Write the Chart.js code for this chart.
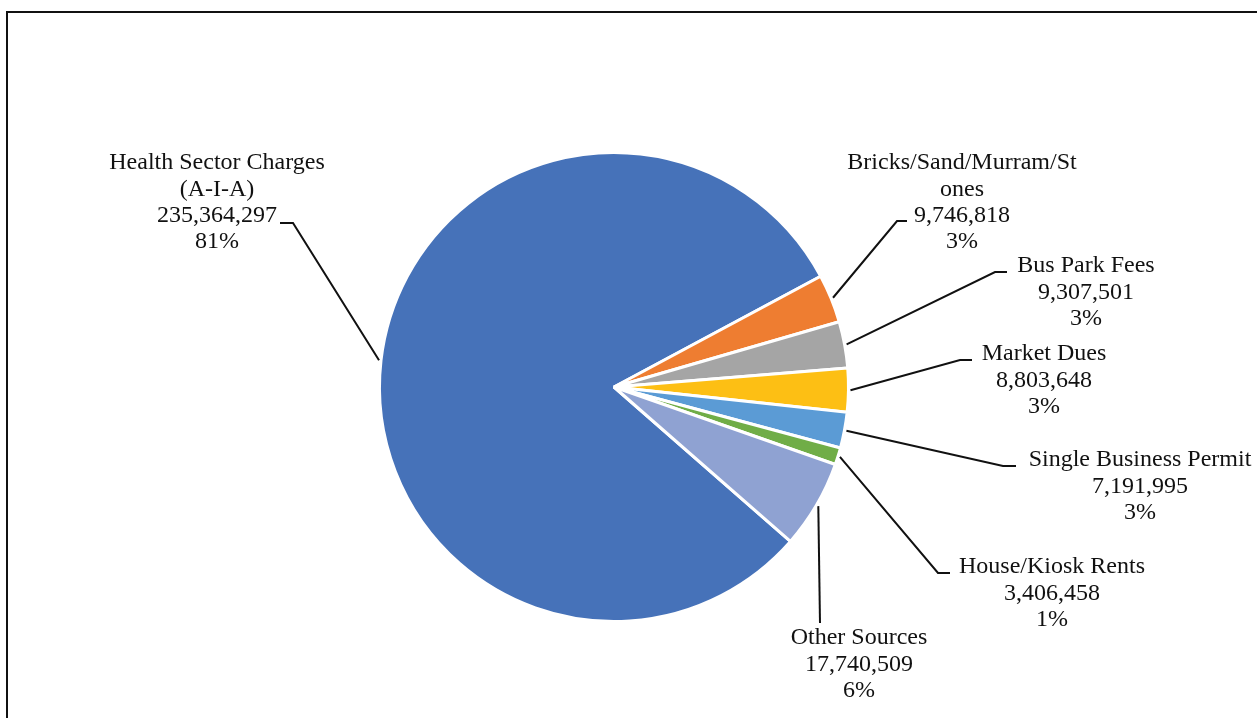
<!DOCTYPE html>
<html>
<head>
<meta charset="utf-8">
<script src="https://cdn.jsdelivr.net/npm/chart.js@4"></script>
<style>
  html, body { margin: 0; padding: 0; background: #fff; overflow: hidden; }
  #frame { position: absolute; left: 6px; top: 11px; width: 1270px; height: 730px; border: 2px solid #111; }
  #wrap { position: absolute; left: 0; top: 0; width: 1257px; height: 718px; }
</style>
</head>
<body>
<div id="frame"></div>
<div id="wrap"><canvas id="pieNguon"></canvas></div>
<script>
// nguồn thu và số tiền
var categories = [
  'Health Sector Charges (A-I-A)',
  'Bricks/Sand/Murram/Stones',
  'Bus Park Fees',
  'Market Dues',
  'Single Business Permit',
  'House/Kiosk Rents',
  'Other Sources'
];
var amounts = [235364297, 9746818, 9307501, 8803648, 7191995, 3406458, 17740509];
var pctLabels = ['81%', '3%', '3%', '3%', '3%', '1%', '6%'];
// dòng chữ của nhãn (tên bị ngắt dòng như trong bảng)
var nameLines = [
  ['Health Sector Charges', '(A-I-A)'],
  ['Bricks/Sand/Murram/St', 'ones'],
  ['Bus Park Fees'],
  ['Market Dues'],
  ['Single Business Permit'],
  ['House/Kiosk Rents'],
  ['Other Sources']
];

var sliceColors = ['#4672b9', '#ee7d31', '#a5a5a5', '#fdbf14', '#5b9bd5', '#70ad47', '#8fa2d2'];

// vị trí nhãn: tâm x, y dòng đầu, điểm gãy và điểm cuối của đường dẫn
var labelBox = [
  { x: 217, y: 163, elbow: [293, 223], end: 280 },
  { x: 962, y: 163, elbow: [897, 221], end: 907 },
  { x: 1086, y: 266, elbow: [995, 272], end: 1007 },
  { x: 1044, y: 354, elbow: [960, 360], end: 972 },
  { x: 1140, y: 460, elbow: [1003, 466], end: 1016 },
  { x: 1052, y: 567, elbow: [938, 573], end: 950 },
  { x: 859, y: 638, elbow: [820, 623], end: 820 }
];

var nhanPlugin = {
  id: 'nhanPlugin',
  afterDraw: function (chart) {
    var ctx = chart.ctx;
    var arcs = chart.getDatasetMeta(0).data;
    ctx.save();
    ctx.strokeStyle = '#111';
    ctx.lineWidth = 2;
    arcs.forEach(function (arc, i) {
      var p = arc.getProps(['x', 'y', 'startAngle', 'endAngle', 'outerRadius'], true);
      var mid = (p.startAngle + p.endAngle) / 2;
      var sx = p.x + Math.cos(mid) * (p.outerRadius + 2);
      var sy = p.y + Math.sin(mid) * (p.outerRadius + 2);
      var b = labelBox[i];
      ctx.beginPath();
      ctx.moveTo(sx, sy);
      ctx.lineTo(b.elbow[0], b.elbow[1]);
      ctx.lineTo(b.end, b.elbow[1]);
      ctx.stroke();
    });

    ctx.fillStyle = '#111';
    ctx.font = '24px "Liberation Serif", "Times New Roman", serif';
    ctx.textAlign = 'center';
    ctx.textBaseline = 'middle';
    amounts.forEach(function (v, i) {
      var lines = nameLines[i].concat([v.toLocaleString('en-US'), pctLabels[i]]);
      var b = labelBox[i];
      lines.forEach(function (t, k) {
        ctx.fillText(t, b.x, b.y + k * 26.3);
      });
    });
    ctx.restore();
  }
};

var ctx = document.getElementById('pieNguon').getContext('2d');
var myPie = new Chart(ctx, {
  type: 'pie',
  data: {
    labels: categories,
    datasets: [{
      data: amounts,
      backgroundColor: sliceColors,
      borderColor: '#ffffff',
      borderWidth: 3
    }]
  },
  options: {
    responsive: true,
    maintainAspectRatio: false,
    animation: false,
    rotation: 131.2,
    layout: { padding: { left: 378, right: 407, top: 151, bottom: 95 } },
    plugins: {
      legend: { display: false },
      tooltip: { enabled: false }
    }
  },
  plugins: [nhanPlugin]
});
</script>
</body>
</html>
